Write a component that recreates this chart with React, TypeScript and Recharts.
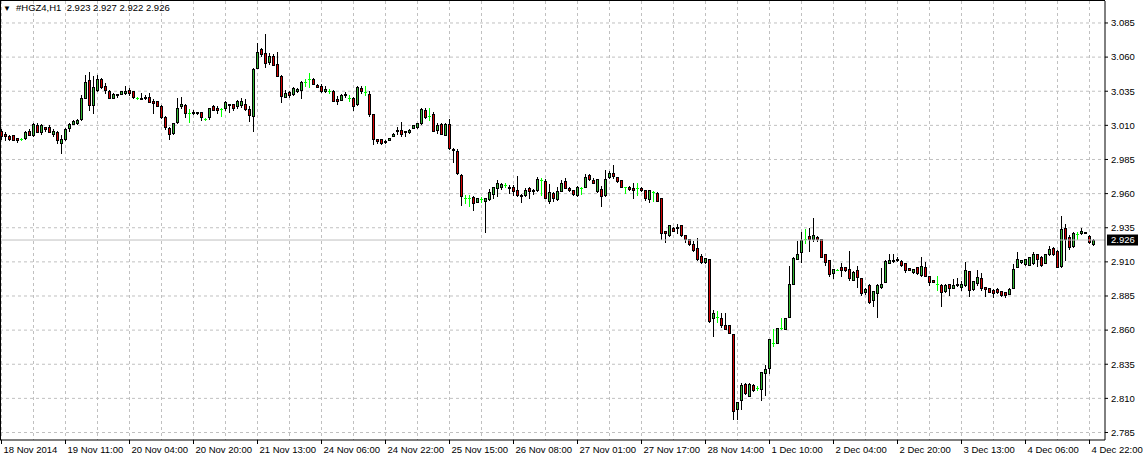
import React from "react";
import { ComposedChart, Bar, XAxis, YAxis, CartesianGrid, ReferenceLine } from "recharts";

const symbolTitle = "#HGZ4,H1";
const lastBarText = "2.923 2.927 2.922 2.926";
const lastPrice = 2.926;

const opens = [
  3.006, 3.004, 3.002, 3.003, 3.001, 3.000, 3.001, 3.006, 3.003, 3.010,
  3.005, 3.0085, 3.009, 3.004, 3.005, 2.997, 3.000, 3.008, 3.0113, 3.0115,
  3.0145, 3.030, 3.043, 3.025, 3.036, 3.044, 3.039, 3.035, 3.030, 3.033,
  3.033, 3.0335, 3.036, 3.035, 3.030, 3.030, 3.030, 3.031, 3.028, 3.0275,
  3.024, 3.016, 3.008, 3.0045, 3.0128, 3.024, 3.025, 3.019, 3.019, 3.0195,
  3.0195, 3.015, 3.016, 3.0244, 3.023, 3.0222, 3.0225, 3.0257, 3.0256, 3.024,
  3.0252, 3.026, 3.0223, 3.0166, 3.052, 3.0656, 3.063, 3.0565, 3.0607, 3.0548,
  3.0465, 3.031, 3.0342, 3.033, 3.035, 3.0362, 3.042, 3.0436, 3.0443, 3.0393,
  3.039, 3.035, 3.0355, 3.0355, 3.0296, 3.0289, 3.032, 3.0301, 3.030, 3.0254,
  3.0375, 3.0342, 3.0333, 3.018, 3.000, 2.9997, 2.9975, 2.9992, 3.0025, 3.0055,
  3.0069, 3.0057, 3.0052, 3.0081, 3.009, 3.0118, 3.0215, 3.0167, 3.0186, 3.0064,
  3.011, 3.0032, 3.0113, 2.993, 2.9915, 2.9737, 2.957, 2.957, 2.9576, 2.954,
  2.9561, 2.9544, 2.9561, 2.9598, 2.964, 2.9645, 2.966, 2.965, 2.965, 2.963,
  2.9593, 2.959, 2.9642, 2.9627, 2.9625, 2.9703, 2.9693, 2.9544, 2.9601, 2.9561,
  2.962, 2.9695, 2.9642, 2.9628, 2.959, 2.9643, 2.9648, 2.9733, 2.970, 2.9619,
  2.9631, 2.959, 2.9721, 2.9748, 2.9723, 2.970, 2.9646, 2.965, 2.9643, 2.9641,
  2.9643, 2.9624, 2.9558, 2.9614, 2.9602, 2.9565, 2.9325, 2.9295, 2.9351, 2.935,
  2.9368, 2.930, 2.9265, 2.9234, 2.9202, 2.9141, 2.9098, 2.912, 2.8691, 2.8699,
  2.8691, 2.8635, 2.8635, 2.8575, 2.8022, 2.809, 2.8205, 2.812, 2.8197, 2.8173,
  2.8168, 2.8285, 2.8326, 2.8509, 2.8504, 2.8616, 2.8611, 2.8699, 2.894, 2.9122,
  2.917, 2.9268, 2.929, 2.9265, 2.9284, 2.9265, 2.9154, 2.911, 2.902, 2.9044,
  2.9064, 2.9064, 2.905, 2.8966, 2.9044, 2.8983, 2.8877, 2.8934, 2.8819, 2.8873,
  2.8914, 2.8951, 2.9093, 2.9103, 2.911, 2.9105, 2.9093, 2.9052, 2.9025, 2.9064,
  2.9007, 2.9064, 2.8995, 2.8966, 2.8941, 2.8934, 2.8885, 2.8941, 2.8909, 2.8927,
  2.8916, 2.8933, 2.9031, 2.8901, 2.8946, 2.8982, 2.8916, 2.8909, 2.8892, 2.8901,
  2.8889, 2.8877, 2.8867, 2.8909, 2.9063, 2.9098, 2.9085, 2.908, 2.9093, 2.9154,
  2.9137, 2.9093, 2.9154, 2.9203, 2.918, 2.9068, 2.935, 2.9284, 2.9215, 2.9301,
  2.9309, 2.9318, 2.9293, 2.923,
];

const highs = [
  3.007, 3.005, 3.003, 3.003, 3.001, 3.0005, 3.006, 3.007, 3.012, 3.012,
  3.011, 3.009, 3.010, 3.007, 3.006, 3.003, 3.008, 3.012, 3.014, 3.0145,
  3.0325, 3.047, 3.049, 3.046, 3.047, 3.045, 3.041, 3.036, 3.034, 3.033,
  3.0355, 3.039, 3.037, 3.0355, 3.0305, 3.0335, 3.0325, 3.0335, 3.029, 3.028,
  3.025, 3.017, 3.009, 3.012, 3.030, 3.031, 3.026, 3.0217, 3.021, 3.020,
  3.020, 3.0155, 3.023, 3.025, 3.0245, 3.023, 3.028, 3.026, 3.026, 3.0285,
  3.0303, 3.029, 3.0245, 3.052, 3.070, 3.0666, 3.0766, 3.0627, 3.062, 3.0635,
  3.0466, 3.036, 3.035, 3.038, 3.0375, 3.0425, 3.0436, 3.0485, 3.0445, 3.040,
  3.040, 3.0385, 3.0365, 3.036, 3.0316, 3.0333, 3.0343, 3.0325, 3.031, 3.0385,
  3.0385, 3.0386, 3.0355, 3.018, 3.000, 3.000, 2.999, 3.001, 3.0045, 3.009,
  3.0123, 3.006, 3.0072, 3.0105, 3.012, 3.023, 3.0225, 3.023, 3.0195, 3.0115,
  3.0115, 3.0115, 3.0147, 2.9935, 2.9925, 2.974, 2.9587, 2.959, 2.958, 2.957,
  2.9576, 2.957, 2.9635, 2.965, 2.9698, 2.9675, 2.9675, 2.966, 2.966, 2.973,
  2.960, 2.964, 2.965, 2.9635, 2.9725, 2.9711, 2.9705, 2.9672, 2.9615, 2.965,
  2.9698, 2.9715, 2.9645, 2.963, 2.9655, 2.9648, 2.974, 2.9743, 2.9712, 2.971,
  2.9655, 2.9775, 2.9762, 2.9813, 2.9725, 2.9702, 2.965, 2.9655, 2.968, 2.968,
  2.965, 2.9626, 2.9626, 2.9616, 2.9612, 2.957, 2.9328, 2.937, 2.9355, 2.9375,
  2.9368, 2.930, 2.927, 2.9255, 2.9275, 2.9155, 2.913, 2.912, 2.875, 2.8738,
  2.8725, 2.8725, 2.864, 2.8575, 2.8075, 2.8215, 2.8215, 2.8215, 2.8205, 2.8188,
  2.8295, 2.8345, 2.8535, 2.8611, 2.8615, 2.869, 2.8692, 2.907, 2.9138, 2.925,
  2.932, 2.934, 2.9345, 2.9424, 2.929, 2.9268, 2.9155, 2.9113, 2.9051, 2.9045,
  2.9093, 2.9065, 2.9176, 2.903, 2.9068, 2.8985, 2.8905, 2.8935, 2.8886, 2.8935,
  2.9057, 2.911, 2.9155, 2.9155, 2.9135, 2.911, 2.9095, 2.9055, 2.905, 2.9066,
  2.9135, 2.9096, 2.8997, 2.8967, 2.8995, 2.8936, 2.8937, 2.8941, 2.8975, 2.8985,
  2.8958, 2.9097, 2.9033, 2.8962, 2.9043, 2.9022, 2.8918, 2.891, 2.8898, 2.8905,
  2.889, 2.888, 2.8905, 2.9085, 2.9175, 2.9115, 2.9124, 2.9135, 2.917, 2.9155,
  2.9145, 2.9155, 2.9215, 2.921, 2.9185, 2.9435, 2.9375, 2.9298, 2.932, 2.932,
  2.9345, 2.932, 2.9295, 2.927,
];

const lows = [
  3.000, 2.999, 2.999, 2.999, 2.998, 2.9995, 3.000, 3.003, 3.002, 3.005,
  3.004, 3.006, 3.005, 3.002, 2.997, 2.990, 2.999, 3.006, 3.011, 3.011,
  3.014, 3.030, 3.021, 3.019, 3.035, 3.037, 3.0335, 3.030, 3.030, 3.031,
  3.033, 3.033, 3.032, 3.030, 3.0295, 3.029, 3.029, 3.027, 3.019, 3.024,
  3.0155, 3.007, 3.000, 3.004, 3.012, 3.023, 3.016, 3.0127, 3.018, 3.018,
  3.014, 3.014, 3.015, 3.021, 3.019, 3.0166, 3.0215, 3.0195, 3.021, 3.023,
  3.0235, 3.021, 3.0135, 3.0056, 3.052, 3.0607, 3.053, 3.055, 3.054, 3.046,
  3.027, 3.0305, 3.031, 3.0325, 3.0345, 3.0303, 3.039, 3.0382, 3.040, 3.0378,
  3.0345, 3.0345, 3.0338, 3.0275, 3.0254, 3.0286, 3.031, 3.028, 3.021, 3.025,
  3.034, 3.0325, 3.017, 2.996, 2.997, 2.9963, 2.997, 2.999, 3.002, 3.004,
  3.002, 3.0025, 3.0045, 3.008, 3.0081, 3.011, 3.0157, 3.0142, 3.0055, 3.0045,
  3.0035, 3.003, 2.993, 2.983, 2.974, 2.9516, 2.953, 2.9508, 2.9478, 2.9535,
  2.9537, 2.9317, 2.9555, 2.957, 2.9586, 2.9635, 2.9645, 2.9605, 2.959, 2.958,
  2.9537, 2.958, 2.957, 2.9595, 2.9622, 2.9593, 2.9567, 2.953, 2.9545, 2.9555,
  2.962, 2.964, 2.962, 2.959, 2.9585, 2.960, 2.9645, 2.970, 2.9675, 2.9615,
  2.9509, 2.9585, 2.9718, 2.9716, 2.9688, 2.9645, 2.9607, 2.963, 2.9565, 2.959,
  2.962, 2.955, 2.954, 2.9546, 2.9545, 2.9265, 2.9242, 2.929, 2.9325, 2.9315,
  2.929, 2.9245, 2.9222, 2.918, 2.911, 2.909, 2.909, 2.866, 2.8557, 2.866,
  2.8625, 2.8605, 2.858, 2.7946, 2.795, 2.802, 2.813, 2.8115, 2.8155, 2.8163,
  2.8088, 2.8125, 2.8285, 2.848, 2.8503, 2.861, 2.861, 2.8695, 2.8935, 2.9121,
  2.910, 2.924, 2.918, 2.9252, 2.925, 2.9135, 2.908, 2.8995, 2.8985, 2.904,
  2.8995, 2.9035, 2.8965, 2.8965, 2.8915, 2.8858, 2.8865, 2.880, 2.8775, 2.8695,
  2.8905, 2.895, 2.909, 2.9098, 2.9105, 2.9073, 2.9025, 2.9038, 2.902, 2.9013,
  2.900, 2.8998, 2.893, 2.8955, 2.8897, 2.8774, 2.888, 2.8855, 2.8905, 2.8925,
  2.8897, 2.8925, 2.8852, 2.8897, 2.8932, 2.8897, 2.8848, 2.8878, 2.8843, 2.8875,
  2.885, 2.8845, 2.8865, 2.8905, 2.906, 2.909, 2.908, 2.9078, 2.9085, 2.9068,
  2.907, 2.909, 2.9152, 2.9152, 2.906, 2.9066, 2.9117, 2.9195, 2.921, 2.9264,
  2.9305, 2.931, 2.9235, 2.922,
];

const closes = [
  3.002, 3.002, 3.000, 2.999, 2.999, 3.000, 3.005, 3.003, 3.011, 3.005,
  3.010, 3.0075, 3.005, 3.006, 2.999, 3.000, 3.007, 3.011, 3.0135, 3.014,
  3.030, 3.042, 3.025, 3.038, 3.044, 3.038, 3.036, 3.030, 3.033, 3.032,
  3.035, 3.0355, 3.0335, 3.031, 3.030, 3.029, 3.031, 3.027, 3.0265, 3.0245,
  3.016, 3.0085, 3.004, 3.0115, 3.0225, 3.026, 3.019, 3.019, 3.020, 3.019,
  3.016, 3.015, 3.0228, 3.0215, 3.021, 3.0222, 3.027, 3.0253, 3.0225, 3.0276,
  3.0276, 3.022, 3.0178, 3.0516, 3.064, 3.062, 3.0556, 3.061, 3.0545, 3.0465,
  3.0318, 3.0335, 3.032, 3.0372, 3.0365, 3.0416, 3.042, 3.0436, 3.0401, 3.038,
  3.0355, 3.0367, 3.0355, 3.028, 3.0276, 3.0323, 3.0333, 3.0301, 3.0245, 3.0381,
  3.035, 3.0342, 3.018, 3.000, 2.9988, 2.997, 2.9985, 3.0007, 3.004, 3.0065,
  3.0037, 3.0059, 3.0069, 3.0103, 3.0115, 3.022, 3.016, 3.0167, 3.0057, 3.0106,
  3.0037, 3.011, 2.9935, 2.9918, 2.9752, 2.958, 2.957, 2.957, 2.9532, 2.9569,
  2.9561, 2.9569, 2.9613, 2.965, 2.968, 2.967, 2.966, 2.9645, 2.9618, 2.959,
  2.958, 2.963, 2.9622, 2.962, 2.971, 2.9703, 2.9569, 2.9613, 2.9569, 2.9618,
  2.968, 2.9642, 2.963, 2.9594, 2.965, 2.9643, 2.9723, 2.9704, 2.968, 2.9704,
  2.9582, 2.971, 2.9753, 2.9728, 2.969, 2.965, 2.9646, 2.9636, 2.9626, 2.9641,
  2.9626, 2.9565, 2.9624, 2.9614, 2.9546, 2.9315, 2.9315, 2.9368, 2.9327, 2.9356,
  2.9295, 2.9265, 2.9232, 2.9185, 2.9122, 2.9102, 2.9129, 2.8667, 2.8725, 2.8699,
  2.8638, 2.861, 2.8582, 2.801, 2.807, 2.8197, 2.8137, 2.8205, 2.816, 2.8173,
  2.829, 2.8315, 2.8533, 2.8509, 2.8613, 2.8616, 2.8691, 2.8935, 2.913, 2.916,
  2.9263, 2.9268, 2.927, 2.9294, 2.9265, 2.9137, 2.9098, 2.9012, 2.905, 2.9044,
  2.9044, 2.904, 2.8983, 2.9027, 2.8988, 2.8873, 2.8904, 2.8806, 2.8885, 2.8934,
  2.8941, 2.9105, 2.911, 2.9117, 2.9122, 2.9076, 2.9037, 2.904, 2.9049, 2.9015,
  2.9068, 2.900, 2.8951, 2.8956, 2.8941, 2.8877, 2.8934, 2.8905, 2.8934, 2.8941,
  2.894, 2.9043, 2.8892, 2.8958, 2.899, 2.8909, 2.8901, 2.888, 2.8872, 2.8877,
  2.8855, 2.8855, 2.8901, 2.9048, 2.9122, 2.911, 2.9122, 2.9134, 2.9161, 2.9124,
  2.9075, 2.9154, 2.9191, 2.9154, 2.9061, 2.9342, 2.9264, 2.9208, 2.9313, 2.9301,
  2.9326, 2.9316, 2.9245, 2.926,
];

const xTickIndex = [0, 16, 32, 48, 64, 80, 96, 112, 128, 144, 160, 176, 192, 208, 224, 240, 256, 272];
const xTickLabels = [
  "18 Nov 2014", "19 Nov 11:00", "20 Nov 04:00", "20 Nov 20:00", "21 Nov 13:00", "24 Nov 06:00",
  "24 Nov 22:00", "25 Nov 15:00", "26 Nov 08:00", "27 Nov 01:00", "27 Nov 17:00", "28 Nov 14:00",
  "1 Dec 10:00", "2 Dec 04:00", "2 Dec 20:00", "3 Dec 13:00", "4 Dec 06:00", "4 Dec 22:00",
];
const gridIndex = [
  0, 8, 16, 24, 32, 40, 48, 56, 64, 72, 80, 88, 96, 104, 112, 120, 128, 136, 144, 152, 160, 168,
  176, 184, 192, 200, 208, 216, 224, 232, 240, 248, 256, 264, 272,
];
const yTicks = [2.785, 2.81, 2.835, 2.86, 2.885, 2.91, 2.935, 2.96, 2.985, 3.01, 3.035, 3.06, 3.085];

const data = opens.map((o, i) => ({
  i,
  open: o,
  high: highs[i],
  low: lows[i],
  close: closes[i],
  range: [lows[i], highs[i]],
}));

const BULL = "#33b833";
const BEAR = "#d40000";
const DOJI = "#00ff00";
const FONT = "'Liberation Sans', Arial, sans-serif";

const Candle = (props: any) => {
  const { x, y, width, height, payload } = props;
  if (!payload) return null;
  const { open, close, high, low } = payload;
  const top = Math.min(y, y + height);
  const h = Math.abs(height);
  const span = high - low;
  const toY = (v: number) => (span > 0 ? top + ((high - v) / span) * h : top);
  const cx = Math.floor(x + width / 2) + 0.5;
  const yh = Math.round(toY(high));
  const yl = Math.round(toY(low));
  if (open === close) {
    const yo = Math.round(toY(open)) + 0.5;
    return (
      <g>
        <line x1={cx} x2={cx} y1={yh} y2={yl + 1} stroke={DOJI} strokeWidth={1} />
        <line x1={cx - 1.5} x2={cx + 1.5} y1={yo} y2={yo} stroke={DOJI} strokeWidth={1} />
      </g>
    );
  }
  const bt = Math.round(toY(Math.max(open, close)));
  const bb = Math.round(toY(Math.min(open, close)));
  const bh = Math.max(bb - bt, 1);
  return (
    <g>
      <line x1={cx} x2={cx} y1={yh} y2={yl + 1} stroke="#000" strokeWidth={1} />
      <rect
        x={cx - 1}
        y={bt + 0.5}
        width={2}
        height={bh}
        fill={close > open ? BULL : BEAR}
        stroke="#000"
        strokeWidth={1}
      />
    </g>
  );
};

const XTick = (props: any) => {
  const { x, y, payload } = props;
  const k = xTickIndex.indexOf(payload.value);
  const label = k >= 0 ? xTickLabels[k] : "";
  return (
    <text x={x + 2} y={y} dy="0.71em" textAnchor="start" fontFamily={FONT} fontSize={9.5} fill="#000">
      {label}
    </text>
  );
};

const YTick = (props: any) => {
  const { x, y, payload } = props;
  return (
    <text x={x} y={y} dy="0.355em" textAnchor="start" fontFamily={FONT} fontSize={9.5} fill="#000">
      {Number(payload.value).toFixed(3)}
    </text>
  );
};

const PriceTag = (props: any) => {
  const vb = props.viewBox || {};
  const px = (vb.x || 0) + (vb.width || 0) + 2;
  const py = vb.y || 0;
  return (
    <g>
      <rect x={px} y={py - 5.5} width={31} height={11} fill="#000" />
      <text x={px + 4} y={py} dy="0.355em" fontFamily={FONT} fontSize={9.5} fill="#fff">
        {lastPrice.toFixed(3)}
      </text>
    </g>
  );
};

export default function App() {
  return (
    <div style={{ position: "fixed", left: 0, top: 0, width: 1146, height: 458, background: "#fff" }}>
      <ComposedChart
        width={1146}
        height={458}
        data={data}
        margin={{ top: 1, right: 0, bottom: 0, left: 0 }}
      >
        <CartesianGrid
          stroke="#c0c0c0"
          strokeDasharray="3 3"
          horizontalValues={yTicks}
          verticalValues={gridIndex}
        />
        <XAxis
          dataKey="i"
          type="number"
          domain={[-0.375, 275.875]}
          allowDataOverflow
          ticks={xTickIndex}
          interval={0}
          height={18}
          tickSize={4}
          tickMargin={2}
          axisLine={{ stroke: "#000" }}
          tickLine={{ stroke: "#000" }}
          tick={<XTick />}
        />
        <YAxis
          orientation="right"
          type="number"
          domain={[2.7795, 3.1011]}
          allowDataOverflow
          ticks={yTicks}
          interval={0}
          width={41}
          tickSize={3}
          tickMargin={3}
          axisLine={{ stroke: "#000" }}
          tickLine={{ stroke: "#000" }}
          tick={<YTick />}
        />
        <ReferenceLine y={lastPrice} stroke="#c0c0c0" strokeWidth={1} label={<PriceTag />} />
        <Bar dataKey="range" barSize={3} shape={<Candle />} isAnimationActive={false} />
      </ComposedChart>
      <div
        style={{
          position: "absolute",
          left: 0,
          top: 0,
          width: 1105,
          height: 440,
          borderLeft: "1px solid #000",
          borderTop: "1px solid #000",
          boxSizing: "border-box",
          pointerEvents: "none",
        }}
      />
      <svg style={{ position: "absolute", left: 0, top: 0 }} width={200} height={16}>
        <text x={3} y={11} fontFamily={FONT} fontSize={8} fill="#000">▼</text>
        <text x={16} y={11} fontFamily={FONT} fontSize={9.5} fill="#000" style={{ whiteSpace: "pre" }}>
          {symbolTitle + "  " + lastBarText}
        </text>
      </svg>
    </div>
  );
}
